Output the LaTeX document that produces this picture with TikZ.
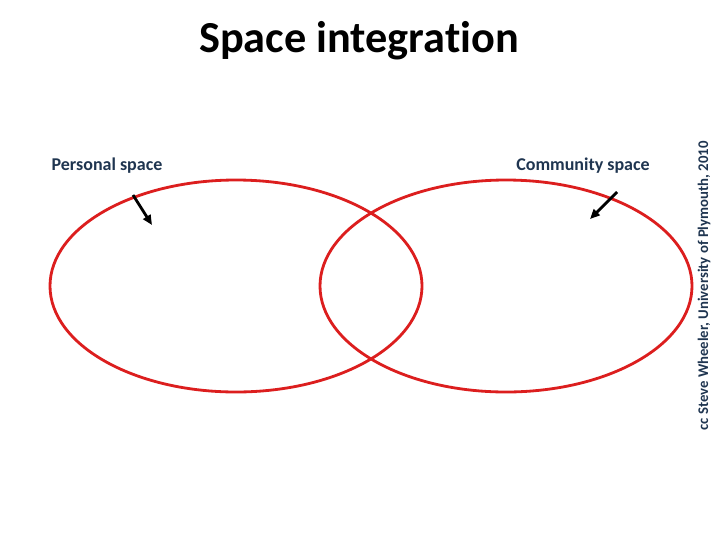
\documentclass[tikz,border=0pt]{standalone}
\usepackage{fontspec}
\setmainfont{Carlito}[Ligatures=NoCommon]
\usepackage{xcolor}
\usetikzlibrary{shapes.geometric, arrows.meta, positioning}
\definecolor{ringRed}{HTML}{DC1E1E}
\definecolor{labelNavy}{HTML}{1F3550}

\begin{document}
\begin{tikzpicture}[x=0.025cm, y=-0.025cm,
    ring/.style={ellipse, draw=ringRed, line width=2pt, minimum width=372*0.025cm, minimum height=212*0.025cm, inner sep=0pt},
    lbl/.style={font=\bfseries\fontsize{12.8}{14}\selectfont, text=labelNavy, inner sep=0pt},
    pointer/.style={-{Triangle[length=7pt, width=6pt]}, line width=2pt, black}
  ]
  \useasboundingbox (0,0) rectangle (720,540);
  \node[font=\bfseries\fontsize{31.5}{36}\selectfont, inner sep=0pt] (title) at (359,41) {Space integration};
  % the two spaces
  \node[ring] (personal) at (236,286) {};
  \node[ring] (community) at (506,286) {};
  \node[lbl] (plbl) at (107,166) {Personal space};
  \node[lbl] (clbl) at (583,166) {Community space};
  % arrows
  \coordinate (pstart) at (133,195);
  \coordinate (pend) at (152,225);
  \coordinate (cstart) at (617,192);
  \coordinate (cend) at (590,219);
  \draw[pointer] (pstart) -- (pend);
  \draw[pointer] (cstart) -- (cend);
  % credit
  \node[rotate=90, font=\bfseries\fontsize{10.5}{12}\selectfont, text=labelNavy, inner sep=0pt] (credit) at (704,286) {cc Steve Wheeler, University of Plymouth, 2010};
\end{tikzpicture}
\end{document}
